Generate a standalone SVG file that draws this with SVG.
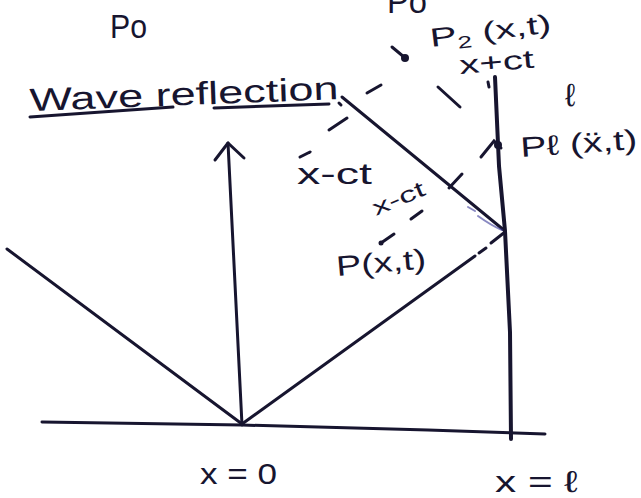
<svg xmlns="http://www.w3.org/2000/svg" width="641" height="498" viewBox="0 0 641 498">
<style>
.ln{fill:none;stroke:#17152f;stroke-width:3;stroke-linecap:round;stroke-linejoin:round}
.wall{fill:none;stroke:#17152f;stroke-width:4;stroke-linecap:round;stroke-linejoin:round}
.ds{fill:none;stroke:#17152f;stroke-width:3;stroke-linecap:round}
.faint{fill:none;stroke:#3a3a9a;stroke-width:2;stroke-linecap:round;opacity:0.6}
.t{font-family:"Liberation Sans","DejaVu Sans",sans-serif;fill:#17152f}
</style>
<rect width="641" height="498" fill="#ffffff"/>
<g id="connectors">
  <polyline class="ln" points="42,422 242,425 428,430 545,434"/>
  <line class="ln" x1="7" y1="249" x2="242" y2="424"/>
  <line class="ln" x1="242" y1="425" x2="228" y2="143"/>
  <polyline class="ln" points="215,160 228,143 244,158"/>
  <line class="ln" x1="242" y1="424" x2="475" y2="256"/>
  <line class="ds" x1="479" y1="253" x2="486" y2="248"/>
  <line class="ln" x1="491" y1="243" x2="505" y2="232" stroke="#2b2a8a"/>
  <line class="ln" x1="342" y1="97" x2="505" y2="231"/>
  <path class="faint" d="M478,216 Q492,226 502,230"/>
  <line class="faint" x1="468" y1="207" x2="475" y2="211"/>
  <polyline class="wall" points="495,77 499,166 505,231 510,332 511,439"/>
  <line class="ds" x1="488" y1="82" x2="489" y2="87"/>
  <line class="ds" x1="381" y1="243" x2="394" y2="234"/>
  <circle cx="381" cy="243" r="2.5" fill="#17152f"/>
  <line class="ds" x1="411" y1="219" x2="422" y2="211"/>
  <line class="ds" x1="449" y1="188" x2="462" y2="174"/>
  <polyline class="ds" points="481,157 494,141 501,148"/>
  <circle cx="498" cy="145" r="4" fill="#17152f"/>
  <line class="ds" x1="392" y1="47" x2="404" y2="57"/>
  <circle cx="405" cy="58" r="4" fill="#17152f"/>
  <line class="ds" x1="438" y1="87" x2="460" y2="107"/>
  <line class="ds" x1="381" y1="85" x2="367" y2="93"/>
  <line class="ds" x1="347" y1="118" x2="329" y2="130"/>
  <line class="ds" x1="310" y1="152" x2="300" y2="157"/>
  <line class="ds" x1="339" y1="103" x2="341" y2="105"/>
</g>
<g id="title">
  <text class="t" x="30" y="111" font-size="32" textLength="309" lengthAdjust="spacingAndGlyphs" transform="rotate(-2.2 30 111)">Wave reflection</text>
  <line class="ln" x1="30" y1="117" x2="173" y2="107"/>
  <line class="ln" x1="214" y1="108" x2="329" y2="104"/>
</g>
<g id="label-po">
  <text class="t" x="110" y="38" font-size="34" textLength="37" lengthAdjust="spacingAndGlyphs">Po</text>
</g>
<g id="label-po-top">
  <text class="t" x="387" y="13" font-size="34" textLength="40" lengthAdjust="spacingAndGlyphs">Po</text>
</g>
<g id="label-p2">
  <text class="t" x="431" y="47" font-size="26" textLength="122" lengthAdjust="spacingAndGlyphs" transform="rotate(-7 431 47)">P<tspan font-size="17" dy="5">2</tspan><tspan dy="-5"> (x,t)</tspan></text>
</g>
<g id="label-xpct">
  <text class="t" x="460" y="74" font-size="26" textLength="75" lengthAdjust="spacingAndGlyphs" transform="rotate(-5 460 74)">x+ct</text>
</g>
<g id="label-l">
  <text class="t" x="565" y="106" font-size="32">ℓ</text>
</g>
<g id="label-pl">
  <text class="t" x="521" y="157" font-size="28" textLength="117" lengthAdjust="spacingAndGlyphs" transform="rotate(-4 521 157)">Pℓ (ẍ,t)</text>
</g>
<g id="label-xmct1">
  <text class="t" x="297" y="184" font-size="30" textLength="75" lengthAdjust="spacingAndGlyphs">x-ct</text>
</g>
<g id="label-xmct2">
  <text class="t" x="376" y="216" font-size="22" textLength="55" lengthAdjust="spacingAndGlyphs" transform="rotate(-23 376 216)">x-ct</text>
</g>
<g id="label-p">
  <text class="t" x="337" y="276" font-size="28" textLength="90" lengthAdjust="spacingAndGlyphs" transform="rotate(-5 337 276)">P(x,t)</text>
</g>
<g id="label-x0">
  <text class="t" x="200" y="484" font-size="30" textLength="77" lengthAdjust="spacingAndGlyphs">x = 0</text>
</g>
<g id="label-xl">
  <text class="t" x="495" y="492" font-size="30" textLength="83" lengthAdjust="spacingAndGlyphs">x = ℓ</text>
</g>
</svg>
